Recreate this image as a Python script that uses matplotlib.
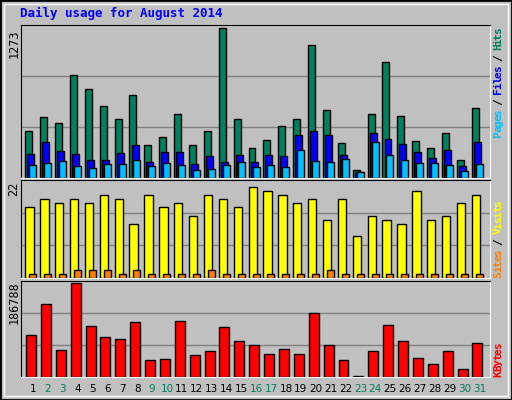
import matplotlib
matplotlib.use("Agg")
import matplotlib.pyplot as plt
from matplotlib.patches import Rectangle
import numpy as np

days = list(range(1, 32))
weekend = [2, 3, 9, 10, 16, 17, 23, 24, 30, 31]
hits = [400, 513, 461, 876, 755, 608, 496, 703, 280, 349, 539, 280, 392, 1273, 496, 254,
        323, 435, 496, 1127, 573, 297, 63, 539, 980, 522, 314, 254, 375, 150, 591]
files = [202, 305, 228, 202, 150, 150, 210, 280, 133, 219, 219, 115, 184, 133, 193, 133,
         193, 184, 366, 392, 366, 193, 46, 383, 331, 288, 219, 167, 236, 98, 305]
pages = [107, 124, 141, 98, 81, 115, 115, 150, 98, 124, 107, 63, 72, 107, 133, 89,
         107, 89, 236, 141, 133, 159, 46, 305, 193, 150, 124, 124, 107, 55, 115]
visits = [17, 19, 18, 19, 18, 20, 19, 13, 20, 17, 18, 15, 20, 19, 17, 22,
          21, 20, 18, 19, 14, 19, 10, 15, 14, 13, 21, 14, 15, 18, 20]
sites = [1, 1, 1, 2, 2, 2, 1, 2, 1, 1, 1, 1, 2, 1, 1, 1,
         1, 1, 1, 1, 2, 1, 1, 1, 1, 1, 1, 1, 1, 1, 1]
kbytes = [84500, 145900, 53800, 186788, 100900, 80400, 76300, 109100, 33400, 35400, 111100,
          43600, 51800, 98800, 72300, 64100, 45700, 55900, 45700, 127500, 64100, 33400,
          2700, 51800, 102900, 72300, 37500, 25200, 51800, 15000, 68200]

W, H = 512, 400
BG = "#C0C0C0"
C_HITS, C_FILES, C_PAGES = "#00805C", "#0000FF", "#00C0FF"
C_VIS, C_SITES, C_KB = "#FFFF00", "#FF8000", "#FF0000"
MONO = "DejaVu Sans Mono"

fig = plt.figure(figsize=(W / 100, H / 100), dpi=100, facecolor=BG)
fig.patches.append(Rectangle((0, 0), 1, 1, transform=fig.transFigure, fill=False,
                             edgecolor="black", lw=2))
fig.patches.append(Rectangle((4 / W, 4 / H), 1 - 8 / W, 1 - 8 / H, transform=fig.transFigure,
                             fill=False, edgecolor="white", lw=1))

def mkax(x0, y0, x1, y1):
    ax = fig.add_axes([x0 / W, 1 - y1 / H, (x1 - x0) / W, (y1 - y0) / H])
    ax.set_facecolor(BG)
    for s in ("left", "top"):
        ax.spines[s].set_color("black")
    for s in ("right", "bottom"):
        ax.spines[s].set_color("white")
    ax.set_xticks([]); ax.set_yticks([])
    ax.set_xlim(0.17, 31.71)
    return ax

x = np.array(days, dtype=float)
bw = 0.47
ax1 = mkax(20.7, 25, 490, 177.5)
top1 = 1299
ax1.set_ylim(0, top1)
for g in (top1 / 3, 2 * top1 / 3):
    ax1.axhline(g, color="#808080", lw=1, zorder=0)
ax1.bar(x - 0.52, hits, bw, align="edge", color=C_HITS, edgecolor="black", lw=1)
ax1.bar(x - 0.38, files, bw, align="edge", color=C_FILES, edgecolor="black", lw=1)
ax1.bar(x - 0.25, pages, bw, align="edge", color=C_PAGES, edgecolor="black", lw=1)

ax2 = mkax(20.7, 180, 490, 278)
top2 = 23.6
ax2.set_ylim(0, top2)
for g in (top2 / 3, 2 * top2 / 3):
    ax2.axhline(g, color="#808080", lw=1, zorder=0)
ax2.bar(x - 0.52, visits, 0.56, align="edge", color=C_VIS, edgecolor="black", lw=1)
ax2.bar(x - 0.25, sites, bw, align="edge", color=C_SITES, edgecolor="black", lw=1)

ax3 = mkax(20.7, 281, 490, 377)
top3 = 190900
ax3.set_ylim(0, top3)
for g in (top3 / 3, 2 * top3 / 3):
    ax3.axhline(g, color="#808080", lw=1, zorder=0)
ax3.bar(x - 0.47, kbytes, 0.67, align="edge", color=C_KB, edgecolor="black", lw=1)

def T(px, py, s, **kw):
    fig.text(px / W, 1 - py / H, s, **kw)

T(20, 13, "Daily usage for August 2014", color="#0000FF", fontsize=9, family=MONO,
  weight="bold", va="center", ha="left")
T(14, 29, str(max(hits)), rotation=90, fontsize=8.5, family=MONO, va="top", ha="center")
T(14, 182, str(max(visits)), rotation=90, fontsize=8.5, family=MONO, va="top", ha="center")
T(14, 281, str(max(kbytes)), rotation=90, fontsize=8.5, family=MONO, va="top", ha="center")

cw = 5.45
def vlabel(ybot, parts):
    y = ybot
    for s, c in parts:
        for ch in s:
            if ch != " ":
                T(498, y - cw / 2, ch, rotation=90, color=c, fontsize=8, family=MONO,
                  weight="bold", va="center", ha="center")
            y -= cw

vlabel(137, [("Pages", C_PAGES), (" / ", "black"), ("Files", C_FILES), (" / ", "black"),
             ("Hits", C_HITS)])
vlabel(277, [("Sites", C_SITES), (" / ", "black"), ("Visits", C_VIS)])
vlabel(376, [("KBytes", C_KB)])

xpx = lambda d: 20.7 + (d - 0.17) / (31.71 - 0.17) * (490 - 20.7)
for d in days:
    T(xpx(d), 389, str(d), color=C_HITS if d in weekend else "black", fontsize=7.5,
      family="DejaVu Sans", ha="center", va="center")

fig.savefig("out.png", dpi=100, facecolor=BG)
